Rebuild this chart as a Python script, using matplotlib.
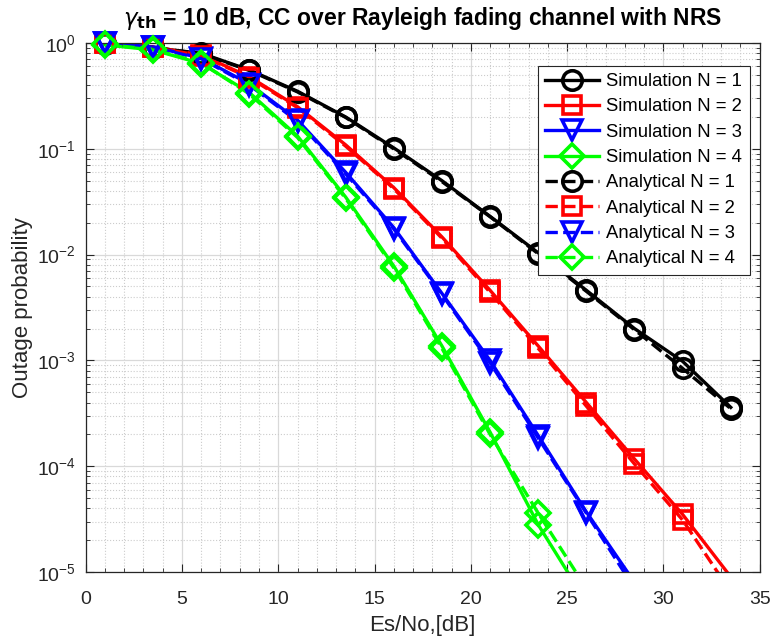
import numpy as np
import matplotlib
matplotlib.use('Agg')
from matplotlib import pyplot as plt
from matplotlib.lines import Line2D
from matplotlib.ticker import LogLocator, MultipleLocator, NullFormatter

plt.rcParams['font.family'] = ['Liberation Sans', 'DejaVu Sans']

# Es/No points (dB)
snr = [1, 3.5, 6, 8.5, 11, 13.5, 16, 18.5, 21, 23.5, 26, 28.5, 31, 33.5]

sim_n1 = [0.98, 0.90, 0.80, 0.556, 0.35, 0.20, 0.102, 0.050, 0.023, 0.0104, 0.0046, 0.0020, 0.00098, 0.00036]
sim_n2 = [0.99, 0.92, 0.77, 0.48, 0.25, 0.109, 0.043, 0.0147, 0.0046, 0.00137, 0.00040, 0.000117, 3.5e-5, 9e-6]
sim_n3 = [1.0, 0.92, 0.72, 0.41, 0.187, 0.060, 0.018, 0.0043, 0.0010, 0.000195, 3.7e-5, 8e-6]
sim_n4 = [0.96, 0.86, 0.64, 0.34, 0.132, 0.035, 0.0078, 0.00137, 0.00021, 2.8e-5, 5.2e-6]

ana_n1 = [0.99, 0.91, 0.79, 0.55, 0.345, 0.198, 0.100, 0.049, 0.0228, 0.0102, 0.0045, 0.00195, 0.00084, 0.00035]
ana_n2 = [1.0, 0.91, 0.76, 0.47, 0.245, 0.106, 0.042, 0.0143, 0.0044, 0.00130, 0.00037, 0.000105, 3.1e-5, 6.5e-6]
ana_n3 = [0.99, 0.91, 0.71, 0.40, 0.182, 0.058, 0.0175, 0.0042, 0.00095, 0.000185, 3.6e-5, 7e-6]
ana_n4 = [0.97, 0.87, 0.65, 0.33, 0.128, 0.034, 0.0075, 0.00130, 0.00020, 3.6e-5, 7e-6]

colors = ['k', (1, 0, 0), (0, 0, 1), (0, 1, 0)]
markers = ['o', 's', 'v', 'D']
ms = [14, 13, 14, 12]

fig = plt.figure(figsize=(7.72, 6.42), dpi=100)
ax = fig.add_axes([0.111, 0.109, 0.873, 0.824])

ymin = 1e-5
lw = 2.4
mew = 2.6
handles = []


def draw(vals, color, marker, size, ls, label):
    x = np.array(snr[:len(vals)])
    y = np.array(vals)
    ax.plot(x, y, ls, color=color, linewidth=lw)
    # MATLAB style: markers not clipped by the axes box, but hidden when out of range
    keep = y >= ymin
    ax.plot(x[keep], y[keep], linestyle='none', marker=marker, markersize=size,
            markerfacecolor='none', markeredgecolor=color, markeredgewidth=mew,
            clip_on=False, zorder=3)
    handles.append(Line2D([], [], linestyle=ls, color=color, linewidth=lw,
                          marker=marker, markersize=size, markerfacecolor='none',
                          markeredgewidth=mew, label=label))


for i, vals in enumerate([sim_n1, sim_n2, sim_n3, sim_n4]):
    draw(vals, colors[i], markers[i], ms[i], '-', 'Simulation N = %d' % (i + 1))
for i, vals in enumerate([ana_n1, ana_n2, ana_n3, ana_n4]):
    draw(vals, colors[i], markers[i], ms[i], '--', 'Analytical N = %d' % (i + 1))

ax.set_yscale('log')
ax.set_xlim(0, 35)
ax.set_ylim(1e-5, 1)
ax.xaxis.set_major_locator(MultipleLocator(5))
ax.xaxis.set_minor_locator(MultipleLocator(1))
ax.yaxis.set_major_locator(LogLocator(base=10, numticks=10))
ax.yaxis.set_minor_locator(LogLocator(base=10, subs=np.arange(2, 10), numticks=20))
ax.yaxis.set_minor_formatter(NullFormatter())

ax.grid(True, which='major', color='#d9d9d9', linewidth=0.9)
ax.grid(True, which='minor', color='#cccccc', linestyle=':', linewidth=0.8)
ax.set_axisbelow(True)
ax.tick_params(which='both', direction='in', top=True, right=True, labelsize=14, colors='#262626')
ax.tick_params(which='major', length=6)
ax.tick_params(axis='x', which='major', pad=14)
ax.tick_params(axis='y', which='major', pad=7)
ax.tick_params(which='minor', length=3)
for s in ax.spines.values():
    s.set_color('#262626')
    s.set_linewidth(0.9)

ax.set_xlabel('Es/No,[dB]', fontsize=16, color='#262626', labelpad=5)
ax.set_ylabel('Outage probability', fontsize=16, color='#262626', labelpad=3)
ax.set_title(r'$\gamma_{\mathbf{th}}$ = 10 dB, CC over Rayleigh fading channel with NRS',
             fontsize=16.5, fontweight='bold', pad=13)

leg = ax.legend(handles=handles, loc='upper right', fontsize=13.3, handlelength=2.9,
                borderpad=0.4, labelspacing=0.45, handletextpad=0.4, fancybox=False,
                borderaxespad=0, bbox_to_anchor=(0.985, 0.957))
leg.get_frame().set_edgecolor('#262626')
leg.get_frame().set_linewidth(0.8)
leg.get_frame().set_alpha(1)
leg.set_zorder(5)

fig.savefig('out.png', dpi=100)
